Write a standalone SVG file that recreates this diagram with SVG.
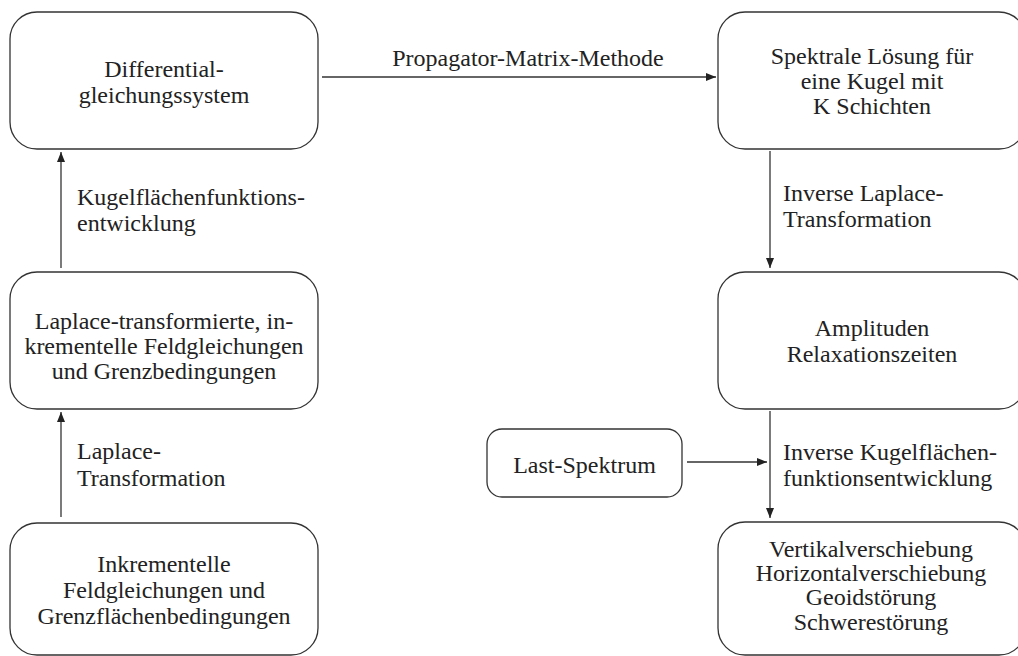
<svg xmlns="http://www.w3.org/2000/svg" width="1018" height="656" viewBox="0 0 1018 656">
<defs>
<style>
.box{fill:#fff;stroke:#333;stroke-width:1.3}
.t{font-family:"Liberation Serif","Times New Roman",serif;font-size:24px;fill:#222}
.c{text-anchor:middle}
.edge{stroke:#333;stroke-width:1.3;fill:none;marker-end:url(#ah)}
</style>
<marker id="ah" viewBox="0 0 10 8" refX="10" refY="4" markerWidth="10" markerHeight="8" markerUnits="userSpaceOnUse" orient="auto">
<path d="M0,0 L10,4 L0,8 Z" fill="#222"/>
</marker>
</defs>
<rect width="1018" height="656" fill="#fff"/>
<g id="n-differential">
<rect class="box" x="10" y="12" width="308" height="137" rx="27"/>
<text class="t c" x="164" y="77">Differential-</text>
<text class="t c" x="164" y="103">gleichungssystem</text>
</g>
<g id="n-laplace-transformierte">
<rect class="box" x="10" y="272" width="308" height="137" rx="27"/>
<text class="t c" x="164" y="329">Laplace-transformierte, in-</text>
<text class="t c" x="164" y="354">krementelle Feldgleichungen</text>
<text class="t c" x="164" y="379">und Grenzbedingungen</text>
</g>
<g id="n-inkrementelle">
<rect class="box" x="10" y="523" width="308" height="132" rx="27"/>
<text class="t c" x="164" y="572">Inkrementelle</text>
<text class="t c" x="164" y="598">Feldgleichungen und</text>
<text class="t c" x="164" y="624">Grenzflächenbedingungen</text>
</g>
<g id="n-spektrale">
<rect class="box" x="718" y="12" width="308" height="137" rx="27"/>
<text class="t c" x="872" y="64">Spektrale Lösung für</text>
<text class="t c" x="872" y="89">eine Kugel mit</text>
<text class="t c" x="872" y="114">K Schichten</text>
</g>
<g id="n-amplituden">
<rect class="box" x="718" y="272" width="308" height="137" rx="27"/>
<text class="t c" x="872" y="336">Amplituden</text>
<text class="t c" x="872" y="362">Relaxationszeiten</text>
</g>
<g id="n-last">
<rect class="box" x="487" y="429" width="195" height="68" rx="15"/>
<text class="t c" x="584.5" y="473">Last-Spektrum</text>
</g>
<g id="n-ergebnisse">
<rect class="box" x="718" y="522" width="308" height="133" rx="27"/>
<text class="t c" x="871" y="557">Vertikalverschiebung</text>
<text class="t c" x="871" y="581">Horizontalverschiebung</text>
<text class="t c" x="871" y="605">Geoidstörung</text>
<text class="t c" x="871" y="630">Schwerestörung</text>
</g>
<g id="connectors">
<line class="edge" x1="61" y1="268" x2="61" y2="152"/>
<line class="edge" x1="61" y1="517" x2="61" y2="412"/>
<line class="edge" x1="322" y1="77" x2="716" y2="77"/>
<line class="edge" x1="770" y1="151" x2="770" y2="268"/>
<line class="edge" x1="770" y1="411" x2="770" y2="518"/>
<line class="edge" x1="687" y1="462" x2="767" y2="462"/>
<text class="t" x="77" y="205">Kugelflächenfunktions-</text>
<text class="t" x="77" y="231">entwicklung</text>
<text class="t" x="77" y="459">Laplace-</text>
<text class="t" x="77" y="486">Transformation</text>
<text class="t c" x="528" y="66">Propagator-Matrix-Methode</text>
<text class="t" x="783" y="201">Inverse Laplace-</text>
<text class="t" x="783" y="227">Transformation</text>
<text class="t" x="783" y="460">Inverse Kugelflächen-</text>
<text class="t" x="783" y="486">funktionsentwicklung</text>
</g>
</svg>
